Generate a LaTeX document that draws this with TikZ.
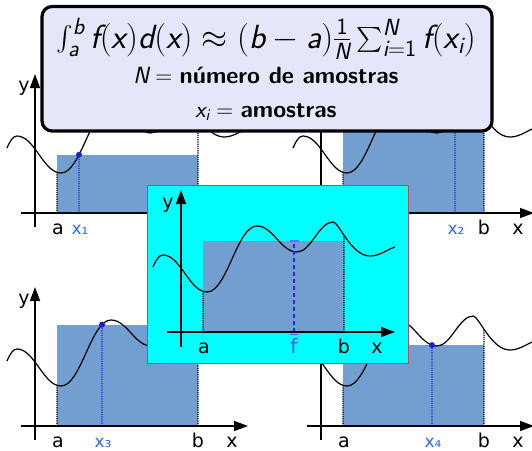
\RequirePackage{fix-cm}
\documentclass[tikz,border=0pt]{standalone}
\usepackage{amsmath}
\usepackage{fontspec}
\newfontfamily\dvs{DejaVu Sans}
\usetikzlibrary{arrows.meta,intersections}
\definecolor{rectblue}{RGB}{114,159,207}
\definecolor{lavbox}{RGB}{230,230,250}
\definecolor{boxred}{RGB}{200,70,80}
\definecolor{boxcyan}{RGB}{0,255,255}
\definecolor{smpblue}{RGB}{40,40,220}
\definecolor{dotblue}{RGB}{30,30,210}
\definecolor{lblblue}{RGB}{45,105,250}
\definecolor{capblue}{RGB}{90,120,255}
\newcommand\vi[1]{\text{\sffamily\itshape #1}}
\newcommand\vu[1]{\text{\sffamily\upshape #1}}
\newcommand\bxt[1]{{\fontseries{bx}\selectfont #1}}
\tikzset{
  axisline/.style={line width=1.4pt,-{Triangle[length=14pt,width=10pt]}},
  crv/.style={line width=1.2pt},
  guide/.style={densely dotted,line width=1.2pt},
  sampleline/.style={densely dotted,line width=1.2pt,draw=smpblue},
  meanline/.style={dashed,dash pattern=on 4pt off 3pt,line width=1.1pt,draw=smpblue},
  meancap/.style={line width=1.2pt,draw=capblue},
  rectfill/.style={fill=rectblue},
  lbl/.style={font=\dvs\fontsize{19}{19}\selectfont,anchor=base,inner sep=0pt},
  slbl/.style={font=\dvs\fontsize{17}{17}\selectfont,anchor=base,inner sep=0pt,text=lblblue},
  ftext/.style={font=\sffamily\fontsize{23.5}{28}\selectfont,anchor=base,inner sep=0pt},
  fbig/.style={font=\sffamily\fontsize{33.5}{40}\selectfont,anchor=base,inner sep=0pt}
}
\newcommand\crvpath[1]{\path[#1] (-28,65) .. controls (-25,72) and (-22,77) .. (-18,77)
 .. controls (-0.4,77) and (8.4,40) .. (26,40)
 .. controls (46,40) and (56,106) .. (76,106)
 .. controls (92,106) and (100,80) .. (116,80)
 .. controls (130,80) and (138,110) .. (152,110)
 .. controls (158,110) and (170,76) .. (189,76)
 .. controls (199,76) and (207,83) .. (214,85);}
\newcommand\mcpanel[4]{%
\begin{scope}[shift={#1},yscale=-1]
  \crvpath{name path=crvp}
  \path[name path=vline] (#2,-20) -- (#2,150);
  \path[name path=aline] (22,-20) -- (22,150);
  \path[name path=bline] (163,-20) -- (163,150);
  \path[name intersections={of=crvp and vline,by={#4s}}];
  \path[name intersections={of=crvp and aline,by={#4a}}];
  \path[name intersections={of=crvp and bline,by={#4b}}];
  \coordinate (#4xa) at (22,0);
  \coordinate (#4xb) at (163,0);
  \coordinate (#4xs) at (#2,0);
  \fill[rectfill] (#4xa) rectangle (#4xb |- #4s);
  \crvpath{draw,crv}
  \draw[guide] (#4xa) -- (#4a);
  \draw[guide] (#4xb) -- (#4b);
  \draw[sampleline] (#4xs) -- (#4s);
  \draw[axisline] (-14,0) coordinate (#4xl) -- (213,0) coordinate (#4xt);
  \draw[axisline] (0,-14) coordinate (#4yl) -- (0,139) coordinate (#4yt);
  \fill[dotblue] (#4s) circle (3pt);
  \node[lbl] (#4la) at (23,-21) {a};
  \node[lbl] (#4lb) at (163,-21) {b};
  \node[lbl] (#4lx) at (197,-21) {x};
  \node[lbl] (#4ly) at (-11,122) {y};
  \node[slbl] (#4ls) at (#2+1,-21) {#3};
\end{scope}}
\begin{document}
\begin{tikzpicture}[x=1pt,y=-1pt]
\useasboundingbox (0,0) rectangle (532,450);
\mcpanel{(35,213)}{44}{x₁}{pa}
\mcpanel{(321,213)}{134}{x₂}{pb}
\mcpanel{(35,426)}{67}{x₃}{pc}
\mcpanel{(321,426)}{111}{x₄}{pd}
% central mean-value box
\node[draw=boxred,fill=boxcyan,line width=0.8pt,minimum width=261pt,minimum height=178pt,inner sep=0pt] (cbox) at (277.5,274) {};
\begin{scope}[shift={(181,332)},yscale=-1]
  \crvpath{name path=crvc}
  \path[name path=acl] (22,-20) -- (22,150);
  \path[name path=bcl] (163,-20) -- (163,150);
  \path[name intersections={of=crvc and acl,by={ca}}];
  \path[name intersections={of=crvc and bcl,by={cb}}];
  \coordinate (cxa) at (22,0);
  \coordinate (cxb) at (163,0);
  \coordinate (cxm) at (113,0);
  \coordinate (cm) at (113,91);
  \fill[rectfill] (cxa) rectangle (163,91);
  \crvpath{draw,crv}
  \draw[guide] (cxa) -- (ca);
  \draw[guide] (cxb) -- (cb);
  \draw[meanline] (cxm) -- (cm);
  \draw[meancap] ([xshift=-4.5pt]cm) -- ([xshift=4.5pt]cm);
  \draw[axisline] (-14,0) coordinate (cxl) -- (214,0) coordinate (cxt);
  \draw[axisline] (0,-15) coordinate (cyl) -- (0,142) coordinate (cyt);
  \node[lbl] (cla) at (23,-21) {a};
  \node[lbl] (clb) at (163,-21) {b};
  \node[lbl] (clx) at (196,-21) {x};
  \node[lbl] (cly) at (-13,124) {y};
  \node[lbl,text=lblblue,font=\dvs\fontsize{20}{20}\selectfont] (clf) at (113,-21) {$\overline{\hbox{f}}$};
\end{scope}
% formula box
\node[draw=black,line width=3.2pt,rounded corners=10pt,fill=lavbox,minimum width=450pt,minimum height=124.5pt,inner sep=0pt] (fbox) at (267,68.75) {};
\node[fbig] (f1) at (266,48) {$\int_{\vi{a}}^{\vi{b}}\vi{f}(\vi{x})\vi{d}(\vi{x}) \approx (\vi{b}-\vi{a})\frac{\vu{1}}{\vi{N}}\sum_{\vi{i}=\vu{1}}^{\vi{N}}\vi{f}(\vi{x}_{\vi{i}})$};
\node[ftext] (f2) at (266,83) {$\vi{N}=$ \bxt{número de amostras}};
\node[ftext] (f3) at (266,117) {$\vi{x}_{\vi{i}}=$ \bxt{amostras}};
\end{tikzpicture}
\end{document}
